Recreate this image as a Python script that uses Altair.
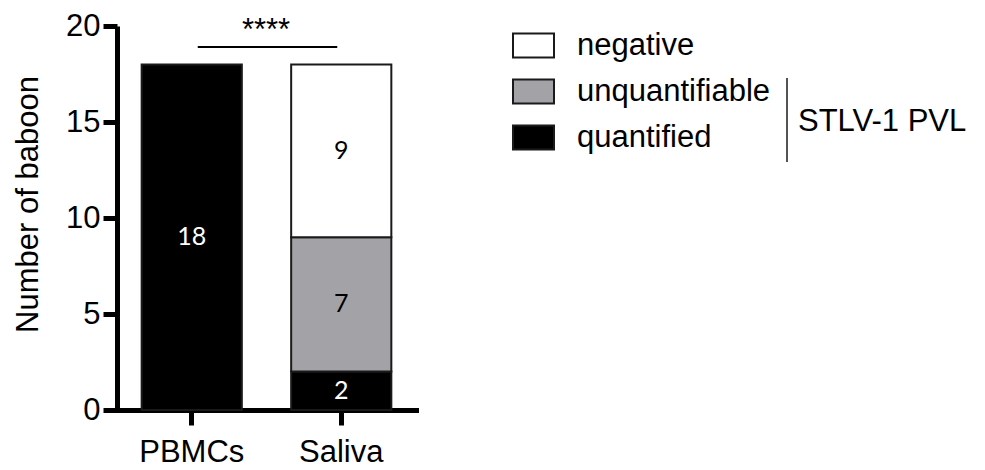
import altair as alt
import pandas as pd

categories = ["PBMCs", "Saliva"]
quantified = [18, 2]
unquantifiable = [0, 7]
negative = [0, 9]
statuses = ["negative", "unquantifiable", "quantified"]
status_colors = ["#ffffff", "#a3a3a7", "#000000"]
y_ticks = [0, 5, 10, 15, 20]

rows = []
series = {"quantified": quantified, "unquantifiable": unquantifiable, "negative": negative}
stack_rank = {"quantified": 0, "unquantifiable": 1, "negative": 2}
for i, cat in enumerate(categories):
    base = 0
    for s in ["quantified", "unquantifiable", "negative"]:
        v = series[s][i]
        if v > 0:
            rows.append({"sample": cat, "status": s, "count": v, "rank": stack_rank[s],
                         "y0": base, "y1": base + v, "mid": base + v / 2})
        base += v
df = pd.DataFrame(rows)

FONT = "Liberation Sans"

x_enc = alt.X("sample:N", sort=categories, title=None,
              scale=alt.Scale(paddingInner=0.33, paddingOuter=0.165),
              axis=alt.Axis(labelAngle=0, labelFont=FONT, labelFontSize=31, labelColor="black",
                            domainColor="black", domainWidth=5, tickColor="black", tickWidth=5,
                            tickSize=15, labelPadding=12))
y_scale = alt.Scale(domain=[0, 20], nice=False)

bars = alt.Chart(df).mark_bar(stroke="#1a1a1a", strokeWidth=2).encode(
    x=x_enc,
    y=alt.Y("y0:Q", scale=y_scale, title="Number of baboon",
            axis=alt.Axis(values=y_ticks, labelFont=FONT, labelFontSize=31, labelColor="black",
                          domainColor="black", domainWidth=5, tickColor="black", tickWidth=5,
                          tickSize=14, labelPadding=3, grid=False,
                          titleFont=FONT, titleFontSize=31, titleFontWeight="normal",
                          titleColor="black", titleX=-80, titleY=178, titleBaseline="alphabetic")),
    y2="y1:Q",
    fill=alt.Fill("status:N", scale=alt.Scale(domain=statuses, range=status_colors),
                  legend=alt.Legend(title=None, orient="none", legendX=395, legendY=-2,
                                    symbolType="M-1,-0.585H1V0.585H-1Z", symbolSize=1681,
                                    symbolStrokeColor="#1a1a1a", symbolStrokeWidth=2,
                                    labelFont=FONT, labelFontSize=31, labelColor="black",
                                    labelOffset=22, labelLimit=0, rowPadding=8, padding=0)),
)

labels = alt.Chart(df).mark_text(font="Lato", fontSize=25, baseline="middle").encode(
    x=alt.X("sample:N", sort=categories),
    y=alt.Y("mid:Q", scale=y_scale),
    text="count:Q",
    color=alt.condition(alt.datum.status == "quantified", alt.value("white"), alt.value("black")),
)

sig_line = alt.Chart(pd.DataFrame({"a": [categories[0]], "b": [categories[1]]})).mark_rule(
    color="black", strokeWidth=2, xOffset=6, x2Offset=-4).encode(
    x=alt.X("a:N", sort=categories),
    x2="b:N",
    y=alt.datum(18.9),
)

sig_text = alt.Chart(pd.DataFrame({"t": ["****"]})).mark_text(
    font=FONT, fontSize=31, align="center", baseline="alphabetic", color="black").encode(
    x=alt.value(149), y=alt.value(14), text="t:N")

group_rule = alt.Chart(pd.DataFrame({"t": ["STLV-1 PVL"]})).mark_rule(
    color="#1a1a1a", strokeWidth=1.5).encode(
    x=alt.value(670), y=alt.value(52), y2=alt.value(136))

group_text = alt.Chart(pd.DataFrame({"t": ["STLV-1 PVL"]})).mark_text(
    font=FONT, fontSize=31, align="left", baseline="middle", color="black").encode(
    x=alt.value(681), y=alt.value(96), text="t:N")

chart = alt.layer(bars, labels, sig_line, sig_text, group_rule, group_text).properties(
    width=299, height=384,
    autosize=alt.AutoSizeParams(type="none"),
    padding={"left": 109, "top": 18, "right": 561, "bottom": 60},
).configure_view(stroke=None).configure_axisX(domainCap="square")

chart.save("out.html", embed_options={"renderer": "svg", "actions": False})
